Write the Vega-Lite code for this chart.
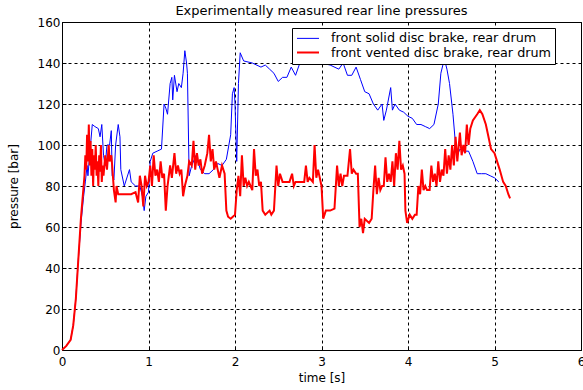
{
  "$schema": "https://vega.github.io/schema/vega-lite/v6.json",
  "width": 519,
  "height": 328,
  "autosize": {"type": "none"},
  "padding": {"left": 62, "top": 22, "right": 2, "bottom": 40},
  "background": "white",
  "config": {
    "font": "DejaVu Sans",
    "view": {"stroke": "#000000", "strokeWidth": 1},
    "axis": {
      "domainColor": "#000000",
      "tickColor": "#000000",
      "labelColor": "#000000",
      "titleColor": "#000000",
      "labelFontSize": 12,
      "titleFontSize": 12,
      "titleFontWeight": "normal",
      "grid": true,
      "gridColor": "#000000",
      "gridDash": [3, 3],
      "gridOpacity": 1,
      "gridWidth": 1,
      "tickSize": -4,
      "labelPadding": 6
    }
  },
  "title": {
    "text": "Experimentally measured rear line pressures",
    "fontSize": 13,
    "fontWeight": "normal",
    "color": "#000000",
    "anchor": "middle",
    "offset": 0,
    "dy": 2
  },
  "data": {
    "values": [
      {"t":0,"p":0,"s":"front solid disc brake, rear drum"},
      {"t":0.05,"p":2,"s":"front solid disc brake, rear drum"},
      {"t":0.1,"p":5,"s":"front solid disc brake, rear drum"},
      {"t":0.13,"p":12,"s":"front solid disc brake, rear drum"},
      {"t":0.16,"p":25,"s":"front solid disc brake, rear drum"},
      {"t":0.19,"p":45,"s":"front solid disc brake, rear drum"},
      {"t":0.22,"p":62,"s":"front solid disc brake, rear drum"},
      {"t":0.25,"p":75,"s":"front solid disc brake, rear drum"},
      {"t":0.27,"p":82,"s":"front solid disc brake, rear drum"},
      {"t":0.29,"p":90,"s":"front solid disc brake, rear drum"},
      {"t":0.3,"p":85,"s":"front solid disc brake, rear drum"},
      {"t":0.33,"p":100,"s":"front solid disc brake, rear drum"},
      {"t":0.35,"p":110,"s":"front solid disc brake, rear drum"},
      {"t":0.38,"p":109,"s":"front solid disc brake, rear drum"},
      {"t":0.42,"p":108,"s":"front solid disc brake, rear drum"},
      {"t":0.44,"p":104,"s":"front solid disc brake, rear drum"},
      {"t":0.46,"p":110,"s":"front solid disc brake, rear drum"},
      {"t":0.48,"p":95,"s":"front solid disc brake, rear drum"},
      {"t":0.5,"p":90,"s":"front solid disc brake, rear drum"},
      {"t":0.52,"p":100,"s":"front solid disc brake, rear drum"},
      {"t":0.55,"p":100,"s":"front solid disc brake, rear drum"},
      {"t":0.57,"p":107,"s":"front solid disc brake, rear drum"},
      {"t":0.58,"p":85,"s":"front solid disc brake, rear drum"},
      {"t":0.6,"p":83,"s":"front solid disc brake, rear drum"},
      {"t":0.62,"p":100,"s":"front solid disc brake, rear drum"},
      {"t":0.65,"p":110,"s":"front solid disc brake, rear drum"},
      {"t":0.67,"p":104,"s":"front solid disc brake, rear drum"},
      {"t":0.68,"p":88,"s":"front solid disc brake, rear drum"},
      {"t":0.72,"p":80,"s":"front solid disc brake, rear drum"},
      {"t":0.78,"p":88,"s":"front solid disc brake, rear drum"},
      {"t":0.8,"p":82,"s":"front solid disc brake, rear drum"},
      {"t":0.85,"p":80,"s":"front solid disc brake, rear drum"},
      {"t":0.9,"p":80,"s":"front solid disc brake, rear drum"},
      {"t":0.93,"p":75,"s":"front solid disc brake, rear drum"},
      {"t":0.95,"p":68,"s":"front solid disc brake, rear drum"},
      {"t":0.97,"p":75,"s":"front solid disc brake, rear drum"},
      {"t":1.0,"p":77,"s":"front solid disc brake, rear drum"},
      {"t":1.02,"p":92,"s":"front solid disc brake, rear drum"},
      {"t":1.05,"p":96,"s":"front solid disc brake, rear drum"},
      {"t":1.1,"p":97,"s":"front solid disc brake, rear drum"},
      {"t":1.15,"p":98,"s":"front solid disc brake, rear drum"},
      {"t":1.18,"p":120,"s":"front solid disc brake, rear drum"},
      {"t":1.2,"p":118,"s":"front solid disc brake, rear drum"},
      {"t":1.22,"p":115,"s":"front solid disc brake, rear drum"},
      {"t":1.25,"p":130,"s":"front solid disc brake, rear drum"},
      {"t":1.27,"p":133,"s":"front solid disc brake, rear drum"},
      {"t":1.28,"p":122,"s":"front solid disc brake, rear drum"},
      {"t":1.3,"p":134,"s":"front solid disc brake, rear drum"},
      {"t":1.33,"p":126,"s":"front solid disc brake, rear drum"},
      {"t":1.35,"p":130,"s":"front solid disc brake, rear drum"},
      {"t":1.38,"p":128,"s":"front solid disc brake, rear drum"},
      {"t":1.4,"p":135,"s":"front solid disc brake, rear drum"},
      {"t":1.42,"p":146,"s":"front solid disc brake, rear drum"},
      {"t":1.44,"p":140,"s":"front solid disc brake, rear drum"},
      {"t":1.45,"p":135,"s":"front solid disc brake, rear drum"},
      {"t":1.47,"p":85,"s":"front solid disc brake, rear drum"},
      {"t":1.5,"p":90,"s":"front solid disc brake, rear drum"},
      {"t":1.55,"p":95,"s":"front solid disc brake, rear drum"},
      {"t":1.6,"p":88,"s":"front solid disc brake, rear drum"},
      {"t":1.65,"p":86,"s":"front solid disc brake, rear drum"},
      {"t":1.7,"p":86,"s":"front solid disc brake, rear drum"},
      {"t":1.75,"p":88,"s":"front solid disc brake, rear drum"},
      {"t":1.8,"p":91,"s":"front solid disc brake, rear drum"},
      {"t":1.85,"p":90,"s":"front solid disc brake, rear drum"},
      {"t":1.9,"p":93,"s":"front solid disc brake, rear drum"},
      {"t":1.95,"p":105,"s":"front solid disc brake, rear drum"},
      {"t":1.97,"p":125,"s":"front solid disc brake, rear drum"},
      {"t":1.99,"p":128,"s":"front solid disc brake, rear drum"},
      {"t":2.0,"p":120,"s":"front solid disc brake, rear drum"},
      {"t":2.02,"p":92,"s":"front solid disc brake, rear drum"},
      {"t":2.04,"p":130,"s":"front solid disc brake, rear drum"},
      {"t":2.06,"p":145,"s":"front solid disc brake, rear drum"},
      {"t":2.1,"p":141,"s":"front solid disc brake, rear drum"},
      {"t":2.2,"p":140,"s":"front solid disc brake, rear drum"},
      {"t":2.3,"p":138,"s":"front solid disc brake, rear drum"},
      {"t":2.35,"p":139,"s":"front solid disc brake, rear drum"},
      {"t":2.4,"p":137,"s":"front solid disc brake, rear drum"},
      {"t":2.45,"p":135,"s":"front solid disc brake, rear drum"},
      {"t":2.5,"p":131,"s":"front solid disc brake, rear drum"},
      {"t":2.55,"p":133,"s":"front solid disc brake, rear drum"},
      {"t":2.6,"p":133,"s":"front solid disc brake, rear drum"},
      {"t":2.65,"p":138,"s":"front solid disc brake, rear drum"},
      {"t":2.7,"p":134,"s":"front solid disc brake, rear drum"},
      {"t":2.75,"p":140,"s":"front solid disc brake, rear drum"},
      {"t":2.8,"p":140,"s":"front solid disc brake, rear drum"},
      {"t":2.9,"p":140,"s":"front solid disc brake, rear drum"},
      {"t":3.0,"p":140,"s":"front solid disc brake, rear drum"},
      {"t":3.1,"p":139,"s":"front solid disc brake, rear drum"},
      {"t":3.2,"p":137,"s":"front solid disc brake, rear drum"},
      {"t":3.25,"p":140,"s":"front solid disc brake, rear drum"},
      {"t":3.3,"p":134,"s":"front solid disc brake, rear drum"},
      {"t":3.35,"p":134,"s":"front solid disc brake, rear drum"},
      {"t":3.4,"p":138,"s":"front solid disc brake, rear drum"},
      {"t":3.45,"p":132,"s":"front solid disc brake, rear drum"},
      {"t":3.5,"p":126,"s":"front solid disc brake, rear drum"},
      {"t":3.55,"p":125,"s":"front solid disc brake, rear drum"},
      {"t":3.6,"p":120,"s":"front solid disc brake, rear drum"},
      {"t":3.65,"p":117,"s":"front solid disc brake, rear drum"},
      {"t":3.7,"p":120,"s":"front solid disc brake, rear drum"},
      {"t":3.72,"p":112,"s":"front solid disc brake, rear drum"},
      {"t":3.75,"p":117,"s":"front solid disc brake, rear drum"},
      {"t":3.8,"p":128,"s":"front solid disc brake, rear drum"},
      {"t":3.82,"p":117,"s":"front solid disc brake, rear drum"},
      {"t":3.85,"p":120,"s":"front solid disc brake, rear drum"},
      {"t":3.9,"p":117,"s":"front solid disc brake, rear drum"},
      {"t":3.95,"p":116,"s":"front solid disc brake, rear drum"},
      {"t":4.0,"p":114,"s":"front solid disc brake, rear drum"},
      {"t":4.05,"p":113,"s":"front solid disc brake, rear drum"},
      {"t":4.1,"p":110,"s":"front solid disc brake, rear drum"},
      {"t":4.15,"p":110,"s":"front solid disc brake, rear drum"},
      {"t":4.2,"p":109,"s":"front solid disc brake, rear drum"},
      {"t":4.25,"p":108,"s":"front solid disc brake, rear drum"},
      {"t":4.3,"p":110,"s":"front solid disc brake, rear drum"},
      {"t":4.35,"p":120,"s":"front solid disc brake, rear drum"},
      {"t":4.38,"p":135,"s":"front solid disc brake, rear drum"},
      {"t":4.42,"p":142,"s":"front solid disc brake, rear drum"},
      {"t":4.45,"p":137,"s":"front solid disc brake, rear drum"},
      {"t":4.48,"p":130,"s":"front solid disc brake, rear drum"},
      {"t":4.52,"p":115,"s":"front solid disc brake, rear drum"},
      {"t":4.55,"p":100,"s":"front solid disc brake, rear drum"},
      {"t":4.58,"p":96,"s":"front solid disc brake, rear drum"},
      {"t":4.6,"p":98,"s":"front solid disc brake, rear drum"},
      {"t":4.65,"p":97,"s":"front solid disc brake, rear drum"},
      {"t":4.7,"p":97,"s":"front solid disc brake, rear drum"},
      {"t":4.75,"p":92,"s":"front solid disc brake, rear drum"},
      {"t":4.8,"p":86,"s":"front solid disc brake, rear drum"},
      {"t":4.85,"p":86,"s":"front solid disc brake, rear drum"},
      {"t":4.9,"p":86,"s":"front solid disc brake, rear drum"},
      {"t":4.95,"p":85,"s":"front solid disc brake, rear drum"},
      {"t":5.0,"p":84,"s":"front solid disc brake, rear drum"},
      {"t":5.05,"p":82,"s":"front solid disc brake, rear drum"},

      {"t":0,"p":0,"s":"front vented disc brake, rear drum"},
      {"t":0.05,"p":2,"s":"front vented disc brake, rear drum"},
      {"t":0.1,"p":5,"s":"front vented disc brake, rear drum"},
      {"t":0.13,"p":12,"s":"front vented disc brake, rear drum"},
      {"t":0.16,"p":25,"s":"front vented disc brake, rear drum"},
      {"t":0.19,"p":45,"s":"front vented disc brake, rear drum"},
      {"t":0.22,"p":65,"s":"front vented disc brake, rear drum"},
      {"t":0.24,"p":75,"s":"front vented disc brake, rear drum"},
      {"t":0.26,"p":85,"s":"front vented disc brake, rear drum"},
      {"t":0.27,"p":95,"s":"front vented disc brake, rear drum"},
      {"t":0.28,"p":88,"s":"front vented disc brake, rear drum"},
      {"t":0.29,"p":105,"s":"front vented disc brake, rear drum"},
      {"t":0.3,"p":92,"s":"front vented disc brake, rear drum"},
      {"t":0.31,"p":110,"s":"front vented disc brake, rear drum"},
      {"t":0.32,"p":90,"s":"front vented disc brake, rear drum"},
      {"t":0.33,"p":102,"s":"front vented disc brake, rear drum"},
      {"t":0.34,"p":85,"s":"front vented disc brake, rear drum"},
      {"t":0.35,"p":98,"s":"front vented disc brake, rear drum"},
      {"t":0.36,"p":80,"s":"front vented disc brake, rear drum"},
      {"t":0.37,"p":95,"s":"front vented disc brake, rear drum"},
      {"t":0.38,"p":88,"s":"front vented disc brake, rear drum"},
      {"t":0.39,"p":100,"s":"front vented disc brake, rear drum"},
      {"t":0.4,"p":85,"s":"front vented disc brake, rear drum"},
      {"t":0.41,"p":92,"s":"front vented disc brake, rear drum"},
      {"t":0.42,"p":80,"s":"front vented disc brake, rear drum"},
      {"t":0.43,"p":95,"s":"front vented disc brake, rear drum"},
      {"t":0.44,"p":87,"s":"front vented disc brake, rear drum"},
      {"t":0.45,"p":100,"s":"front vented disc brake, rear drum"},
      {"t":0.46,"p":82,"s":"front vented disc brake, rear drum"},
      {"t":0.47,"p":90,"s":"front vented disc brake, rear drum"},
      {"t":0.48,"p":85,"s":"front vented disc brake, rear drum"},
      {"t":0.5,"p":95,"s":"front vented disc brake, rear drum"},
      {"t":0.52,"p":88,"s":"front vented disc brake, rear drum"},
      {"t":0.54,"p":100,"s":"front vented disc brake, rear drum"},
      {"t":0.55,"p":92,"s":"front vented disc brake, rear drum"},
      {"t":0.57,"p":95,"s":"front vented disc brake, rear drum"},
      {"t":0.58,"p":90,"s":"front vented disc brake, rear drum"},
      {"t":0.6,"p":78,"s":"front vented disc brake, rear drum"},
      {"t":0.62,"p":72,"s":"front vented disc brake, rear drum"},
      {"t":0.63,"p":80,"s":"front vented disc brake, rear drum"},
      {"t":0.65,"p":76,"s":"front vented disc brake, rear drum"},
      {"t":0.7,"p":76,"s":"front vented disc brake, rear drum"},
      {"t":0.75,"p":76,"s":"front vented disc brake, rear drum"},
      {"t":0.8,"p":76,"s":"front vented disc brake, rear drum"},
      {"t":0.85,"p":77,"s":"front vented disc brake, rear drum"},
      {"t":0.88,"p":72,"s":"front vented disc brake, rear drum"},
      {"t":0.9,"p":85,"s":"front vented disc brake, rear drum"},
      {"t":0.92,"p":80,"s":"front vented disc brake, rear drum"},
      {"t":0.94,"p":70,"s":"front vented disc brake, rear drum"},
      {"t":0.96,"p":85,"s":"front vented disc brake, rear drum"},
      {"t":0.98,"p":80,"s":"front vented disc brake, rear drum"},
      {"t":1.0,"p":82,"s":"front vented disc brake, rear drum"},
      {"t":1.02,"p":90,"s":"front vented disc brake, rear drum"},
      {"t":1.04,"p":80,"s":"front vented disc brake, rear drum"},
      {"t":1.06,"p":95,"s":"front vented disc brake, rear drum"},
      {"t":1.08,"p":85,"s":"front vented disc brake, rear drum"},
      {"t":1.1,"p":88,"s":"front vented disc brake, rear drum"},
      {"t":1.12,"p":82,"s":"front vented disc brake, rear drum"},
      {"t":1.14,"p":92,"s":"front vented disc brake, rear drum"},
      {"t":1.16,"p":84,"s":"front vented disc brake, rear drum"},
      {"t":1.18,"p":86,"s":"front vented disc brake, rear drum"},
      {"t":1.2,"p":68,"s":"front vented disc brake, rear drum"},
      {"t":1.22,"p":80,"s":"front vented disc brake, rear drum"},
      {"t":1.25,"p":90,"s":"front vented disc brake, rear drum"},
      {"t":1.27,"p":84,"s":"front vented disc brake, rear drum"},
      {"t":1.3,"p":96,"s":"front vented disc brake, rear drum"},
      {"t":1.32,"p":86,"s":"front vented disc brake, rear drum"},
      {"t":1.34,"p":90,"s":"front vented disc brake, rear drum"},
      {"t":1.36,"p":86,"s":"front vented disc brake, rear drum"},
      {"t":1.38,"p":88,"s":"front vented disc brake, rear drum"},
      {"t":1.4,"p":75,"s":"front vented disc brake, rear drum"},
      {"t":1.42,"p":80,"s":"front vented disc brake, rear drum"},
      {"t":1.45,"p":85,"s":"front vented disc brake, rear drum"},
      {"t":1.47,"p":92,"s":"front vented disc brake, rear drum"},
      {"t":1.5,"p":90,"s":"front vented disc brake, rear drum"},
      {"t":1.52,"p":102,"s":"front vented disc brake, rear drum"},
      {"t":1.54,"p":88,"s":"front vented disc brake, rear drum"},
      {"t":1.56,"p":96,"s":"front vented disc brake, rear drum"},
      {"t":1.58,"p":90,"s":"front vented disc brake, rear drum"},
      {"t":1.6,"p":93,"s":"front vented disc brake, rear drum"},
      {"t":1.62,"p":86,"s":"front vented disc brake, rear drum"},
      {"t":1.65,"p":90,"s":"front vented disc brake, rear drum"},
      {"t":1.68,"p":96,"s":"front vented disc brake, rear drum"},
      {"t":1.7,"p":105,"s":"front vented disc brake, rear drum"},
      {"t":1.72,"p":92,"s":"front vented disc brake, rear drum"},
      {"t":1.74,"p":98,"s":"front vented disc brake, rear drum"},
      {"t":1.76,"p":88,"s":"front vented disc brake, rear drum"},
      {"t":1.78,"p":92,"s":"front vented disc brake, rear drum"},
      {"t":1.8,"p":88,"s":"front vented disc brake, rear drum"},
      {"t":1.82,"p":84,"s":"front vented disc brake, rear drum"},
      {"t":1.85,"p":90,"s":"front vented disc brake, rear drum"},
      {"t":1.88,"p":86,"s":"front vented disc brake, rear drum"},
      {"t":1.9,"p":68,"s":"front vented disc brake, rear drum"},
      {"t":1.92,"p":65,"s":"front vented disc brake, rear drum"},
      {"t":1.95,"p":64,"s":"front vented disc brake, rear drum"},
      {"t":2.0,"p":66,"s":"front vented disc brake, rear drum"},
      {"t":2.02,"p":78,"s":"front vented disc brake, rear drum"},
      {"t":2.04,"p":85,"s":"front vented disc brake, rear drum"},
      {"t":2.06,"p":75,"s":"front vented disc brake, rear drum"},
      {"t":2.08,"p":95,"s":"front vented disc brake, rear drum"},
      {"t":2.1,"p":80,"s":"front vented disc brake, rear drum"},
      {"t":2.12,"p":84,"s":"front vented disc brake, rear drum"},
      {"t":2.14,"p":80,"s":"front vented disc brake, rear drum"},
      {"t":2.16,"p":82,"s":"front vented disc brake, rear drum"},
      {"t":2.18,"p":80,"s":"front vented disc brake, rear drum"},
      {"t":2.2,"p":78,"s":"front vented disc brake, rear drum"},
      {"t":2.22,"p":98,"s":"front vented disc brake, rear drum"},
      {"t":2.24,"p":85,"s":"front vented disc brake, rear drum"},
      {"t":2.26,"p":88,"s":"front vented disc brake, rear drum"},
      {"t":2.28,"p":80,"s":"front vented disc brake, rear drum"},
      {"t":2.3,"p":82,"s":"front vented disc brake, rear drum"},
      {"t":2.32,"p":68,"s":"front vented disc brake, rear drum"},
      {"t":2.35,"p":66,"s":"front vented disc brake, rear drum"},
      {"t":2.4,"p":68,"s":"front vented disc brake, rear drum"},
      {"t":2.42,"p":66,"s":"front vented disc brake, rear drum"},
      {"t":2.45,"p":68,"s":"front vented disc brake, rear drum"},
      {"t":2.48,"p":90,"s":"front vented disc brake, rear drum"},
      {"t":2.5,"p":80,"s":"front vented disc brake, rear drum"},
      {"t":2.52,"p":86,"s":"front vented disc brake, rear drum"},
      {"t":2.55,"p":82,"s":"front vented disc brake, rear drum"},
      {"t":2.6,"p":82,"s":"front vented disc brake, rear drum"},
      {"t":2.63,"p":82,"s":"front vented disc brake, rear drum"},
      {"t":2.66,"p":86,"s":"front vented disc brake, rear drum"},
      {"t":2.68,"p":80,"s":"front vented disc brake, rear drum"},
      {"t":2.7,"p":82,"s":"front vented disc brake, rear drum"},
      {"t":2.75,"p":82,"s":"front vented disc brake, rear drum"},
      {"t":2.8,"p":82,"s":"front vented disc brake, rear drum"},
      {"t":2.82,"p":90,"s":"front vented disc brake, rear drum"},
      {"t":2.84,"p":82,"s":"front vented disc brake, rear drum"},
      {"t":2.86,"p":84,"s":"front vented disc brake, rear drum"},
      {"t":2.9,"p":82,"s":"front vented disc brake, rear drum"},
      {"t":2.92,"p":100,"s":"front vented disc brake, rear drum"},
      {"t":2.94,"p":84,"s":"front vented disc brake, rear drum"},
      {"t":2.96,"p":88,"s":"front vented disc brake, rear drum"},
      {"t":2.98,"p":84,"s":"front vented disc brake, rear drum"},
      {"t":3.0,"p":80,"s":"front vented disc brake, rear drum"},
      {"t":3.02,"p":64,"s":"front vented disc brake, rear drum"},
      {"t":3.05,"p":68,"s":"front vented disc brake, rear drum"},
      {"t":3.1,"p":68,"s":"front vented disc brake, rear drum"},
      {"t":3.15,"p":69,"s":"front vented disc brake, rear drum"},
      {"t":3.18,"p":90,"s":"front vented disc brake, rear drum"},
      {"t":3.2,"p":80,"s":"front vented disc brake, rear drum"},
      {"t":3.22,"p":86,"s":"front vented disc brake, rear drum"},
      {"t":3.24,"p":80,"s":"front vented disc brake, rear drum"},
      {"t":3.26,"p":85,"s":"front vented disc brake, rear drum"},
      {"t":3.3,"p":85,"s":"front vented disc brake, rear drum"},
      {"t":3.33,"p":98,"s":"front vented disc brake, rear drum"},
      {"t":3.35,"p":86,"s":"front vented disc brake, rear drum"},
      {"t":3.37,"p":88,"s":"front vented disc brake, rear drum"},
      {"t":3.4,"p":86,"s":"front vented disc brake, rear drum"},
      {"t":3.42,"p":86,"s":"front vented disc brake, rear drum"},
      {"t":3.44,"p":60,"s":"front vented disc brake, rear drum"},
      {"t":3.46,"p":64,"s":"front vented disc brake, rear drum"},
      {"t":3.48,"p":57,"s":"front vented disc brake, rear drum"},
      {"t":3.5,"p":64,"s":"front vented disc brake, rear drum"},
      {"t":3.55,"p":62,"s":"front vented disc brake, rear drum"},
      {"t":3.58,"p":64,"s":"front vented disc brake, rear drum"},
      {"t":3.6,"p":78,"s":"front vented disc brake, rear drum"},
      {"t":3.62,"p":90,"s":"front vented disc brake, rear drum"},
      {"t":3.64,"p":76,"s":"front vented disc brake, rear drum"},
      {"t":3.66,"p":84,"s":"front vented disc brake, rear drum"},
      {"t":3.68,"p":78,"s":"front vented disc brake, rear drum"},
      {"t":3.7,"p":80,"s":"front vented disc brake, rear drum"},
      {"t":3.72,"p":80,"s":"front vented disc brake, rear drum"},
      {"t":3.74,"p":94,"s":"front vented disc brake, rear drum"},
      {"t":3.76,"p":82,"s":"front vented disc brake, rear drum"},
      {"t":3.78,"p":86,"s":"front vented disc brake, rear drum"},
      {"t":3.8,"p":82,"s":"front vented disc brake, rear drum"},
      {"t":3.82,"p":92,"s":"front vented disc brake, rear drum"},
      {"t":3.84,"p":80,"s":"front vented disc brake, rear drum"},
      {"t":3.86,"p":96,"s":"front vented disc brake, rear drum"},
      {"t":3.88,"p":88,"s":"front vented disc brake, rear drum"},
      {"t":3.9,"p":102,"s":"front vented disc brake, rear drum"},
      {"t":3.92,"p":88,"s":"front vented disc brake, rear drum"},
      {"t":3.94,"p":90,"s":"front vented disc brake, rear drum"},
      {"t":3.96,"p":86,"s":"front vented disc brake, rear drum"},
      {"t":3.97,"p":68,"s":"front vented disc brake, rear drum"},
      {"t":3.99,"p":62,"s":"front vented disc brake, rear drum"},
      {"t":4.02,"p":66,"s":"front vented disc brake, rear drum"},
      {"t":4.05,"p":64,"s":"front vented disc brake, rear drum"},
      {"t":4.08,"p":66,"s":"front vented disc brake, rear drum"},
      {"t":4.1,"p":66,"s":"front vented disc brake, rear drum"},
      {"t":4.12,"p":80,"s":"front vented disc brake, rear drum"},
      {"t":4.14,"p":76,"s":"front vented disc brake, rear drum"},
      {"t":4.16,"p":88,"s":"front vented disc brake, rear drum"},
      {"t":4.18,"p":78,"s":"front vented disc brake, rear drum"},
      {"t":4.2,"p":80,"s":"front vented disc brake, rear drum"},
      {"t":4.22,"p":78,"s":"front vented disc brake, rear drum"},
      {"t":4.25,"p":78,"s":"front vented disc brake, rear drum"},
      {"t":4.27,"p":90,"s":"front vented disc brake, rear drum"},
      {"t":4.29,"p":82,"s":"front vented disc brake, rear drum"},
      {"t":4.31,"p":86,"s":"front vented disc brake, rear drum"},
      {"t":4.33,"p":80,"s":"front vented disc brake, rear drum"},
      {"t":4.35,"p":92,"s":"front vented disc brake, rear drum"},
      {"t":4.37,"p":82,"s":"front vented disc brake, rear drum"},
      {"t":4.39,"p":88,"s":"front vented disc brake, rear drum"},
      {"t":4.41,"p":85,"s":"front vented disc brake, rear drum"},
      {"t":4.43,"p":98,"s":"front vented disc brake, rear drum"},
      {"t":4.45,"p":86,"s":"front vented disc brake, rear drum"},
      {"t":4.47,"p":95,"s":"front vented disc brake, rear drum"},
      {"t":4.49,"p":88,"s":"front vented disc brake, rear drum"},
      {"t":4.51,"p":100,"s":"front vented disc brake, rear drum"},
      {"t":4.53,"p":90,"s":"front vented disc brake, rear drum"},
      {"t":4.55,"p":104,"s":"front vented disc brake, rear drum"},
      {"t":4.57,"p":92,"s":"front vented disc brake, rear drum"},
      {"t":4.6,"p":106,"s":"front vented disc brake, rear drum"},
      {"t":4.62,"p":95,"s":"front vented disc brake, rear drum"},
      {"t":4.64,"p":100,"s":"front vented disc brake, rear drum"},
      {"t":4.66,"p":96,"s":"front vented disc brake, rear drum"},
      {"t":4.68,"p":110,"s":"front vented disc brake, rear drum"},
      {"t":4.7,"p":100,"s":"front vented disc brake, rear drum"},
      {"t":4.72,"p":108,"s":"front vented disc brake, rear drum"},
      {"t":4.75,"p":112,"s":"front vented disc brake, rear drum"},
      {"t":4.8,"p":115,"s":"front vented disc brake, rear drum"},
      {"t":4.83,"p":117,"s":"front vented disc brake, rear drum"},
      {"t":4.86,"p":115,"s":"front vented disc brake, rear drum"},
      {"t":4.9,"p":110,"s":"front vented disc brake, rear drum"},
      {"t":4.93,"p":104,"s":"front vented disc brake, rear drum"},
      {"t":4.96,"p":98,"s":"front vented disc brake, rear drum"},
      {"t":5.0,"p":96,"s":"front vented disc brake, rear drum"},
      {"t":5.03,"p":92,"s":"front vented disc brake, rear drum"},
      {"t":5.06,"p":88,"s":"front vented disc brake, rear drum"},
      {"t":5.1,"p":82,"s":"front vented disc brake, rear drum"},
      {"t":5.13,"p":80,"s":"front vented disc brake, rear drum"},
      {"t":5.16,"p":76,"s":"front vented disc brake, rear drum"},
      {"t":5.18,"p":74,"s":"front vented disc brake, rear drum"}
    ]
  },
  "mark": {"type": "line", "interpolate": "linear"},
  "encoding": {
    "x": {
      "field": "t",
      "type": "quantitative",
      "scale": {"domain": [0, 6], "nice": false, "zero": false},
      "axis": {"values": [0, 1, 2, 3, 4, 5, 6], "title": "time [s]", "titlePadding": 5, "labelPadding": 10, "labelFlush": false}
    },
    "y": {
      "field": "p",
      "type": "quantitative",
      "scale": {"domain": [0, 160], "nice": false},
      "axis": {"values": [0, 20, 40, 60, 80, 100, 120, 140, 160], "title": "pressure [bar]", "titlePadding": 17, "labelFlush": false}
    },
    "color": {
      "field": "s",
      "type": "nominal",
      "sort": ["front solid disc brake, rear drum", "front vented disc brake, rear drum"],
      "scale": {
        "domain": ["front solid disc brake, rear drum", "front vented disc brake, rear drum"],
        "range": ["#0000ff", "#ff0000"]
      },
      "legend": {
        "title": null,
        "orient": "none",
        "legendX": 230,
        "legendY": 6,
        "direction": "vertical",
        "symbolType": "M-1,0H3",
        "symbolSize": 121,
        "symbolStrokeWidth": 1,
        "labelFontSize": 12.75,
        "labelLimit": 400,
        "labelColor": "#000000",
        "rowPadding": 0,
        "padding": 4,
        "labelOffset": 22,
        "fillColor": "white",
        "strokeColor": "#000000"
      }
    },
    "strokeWidth": {
      "field": "s",
      "type": "nominal",
      "scale": {
        "domain": ["front solid disc brake, rear drum", "front vented disc brake, rear drum"],
        "range": [1, 2]
      },
      "legend": null
    }
  }
}
